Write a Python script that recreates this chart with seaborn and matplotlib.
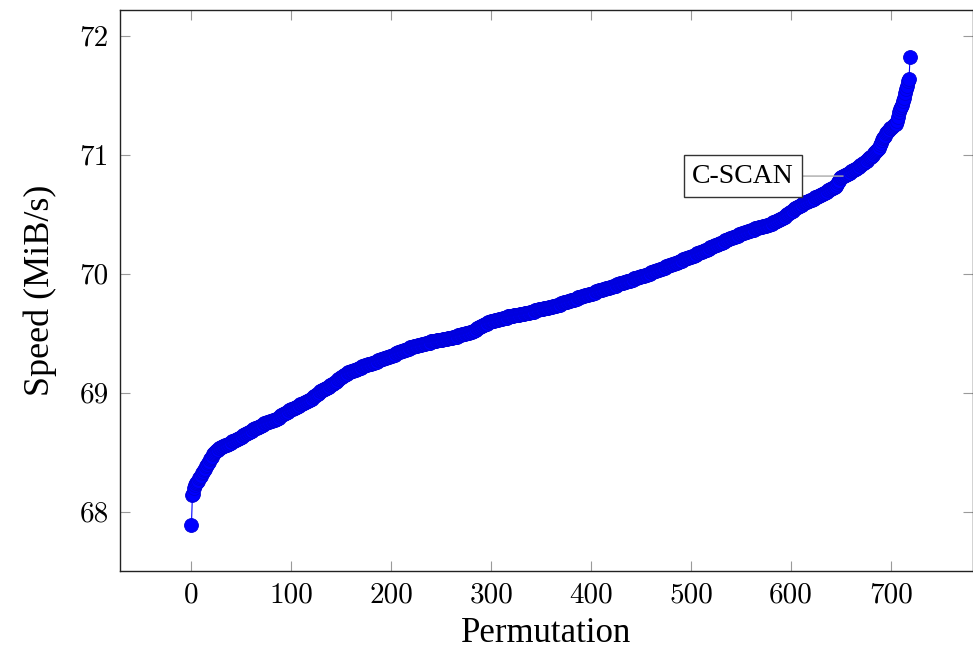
import matplotlib
matplotlib.use('Agg')
import numpy as np
import pandas as pd
import matplotlib.pyplot as plt
import seaborn as sns

# ─────────────────────────────────────────────
# DADOS (ordenados por velocidade)
# ─────────────────────────────────────────────
speed = [
    67.89, 68.14, 68.15, 68.20, 68.22, 68.24, 68.25, 68.26, 68.28, 68.29, 68.30, 68.32, 68.33, 68.35, 68.36, 68.38, 68.39, 68.41, 68.42, 68.44,
    68.45, 68.46, 68.48, 68.49, 68.50, 68.51, 68.52, 68.52, 68.53, 68.53, 68.54, 68.54, 68.55, 68.55, 68.56, 68.56, 68.56, 68.57, 68.57, 68.58,
    68.58, 68.59, 68.59, 68.59, 68.60, 68.60, 68.61, 68.61, 68.62, 68.62, 68.63, 68.63, 68.64, 68.64, 68.65, 68.65, 68.66, 68.66, 68.67, 68.67,
    68.68, 68.68, 68.69, 68.69, 68.70, 68.70, 68.70, 68.71, 68.71, 68.72, 68.72, 68.73, 68.73, 68.74, 68.74, 68.74, 68.75, 68.75, 68.75, 68.76,
    68.76, 68.76, 68.77, 68.77, 68.77, 68.78, 68.78, 68.79, 68.79, 68.80, 68.81, 68.81, 68.82, 68.82, 68.83, 68.83, 68.84, 68.84, 68.85, 68.85,
    68.86, 68.86, 68.86, 68.87, 68.87, 68.88, 68.88, 68.89, 68.89, 68.90, 68.90, 68.90, 68.91, 68.91, 68.92, 68.92, 68.93, 68.93, 68.94, 68.94,
    68.95, 68.95, 68.96, 68.97, 68.97, 68.98, 68.99, 68.99, 69.00, 69.01, 69.01, 69.02, 69.02, 69.03, 69.03, 69.04, 69.04, 69.05, 69.05, 69.06,
    69.06, 69.07, 69.07, 69.08, 69.09, 69.09, 69.10, 69.11, 69.11, 69.12, 69.13, 69.13, 69.14, 69.15, 69.15, 69.16, 69.16, 69.17, 69.17, 69.17,
    69.18, 69.18, 69.18, 69.19, 69.19, 69.19, 69.20, 69.20, 69.21, 69.21, 69.21, 69.22, 69.22, 69.22, 69.23, 69.23, 69.23, 69.24, 69.24, 69.24,
    69.24, 69.25, 69.25, 69.25, 69.26, 69.26, 69.26, 69.27, 69.27, 69.27, 69.28, 69.28, 69.28, 69.29, 69.29, 69.29, 69.30, 69.30, 69.30, 69.31,
    69.31, 69.31, 69.32, 69.32, 69.32, 69.33, 69.33, 69.34, 69.34, 69.34, 69.35, 69.35, 69.35, 69.36, 69.36, 69.36, 69.37, 69.37, 69.37, 69.38,
    69.38, 69.38, 69.38, 69.39, 69.39, 69.39, 69.39, 69.40, 69.40, 69.40, 69.40, 69.41, 69.41, 69.41, 69.41, 69.42, 69.42, 69.42, 69.42, 69.42,
    69.43, 69.43, 69.43, 69.43, 69.43, 69.43, 69.44, 69.44, 69.44, 69.44, 69.44, 69.44, 69.45, 69.45, 69.45, 69.45, 69.45, 69.46, 69.46, 69.46,
    69.46, 69.46, 69.47, 69.47, 69.47, 69.47, 69.47, 69.48, 69.48, 69.48, 69.48, 69.49, 69.49, 69.49, 69.49, 69.50, 69.50, 69.50, 69.50, 69.51,
    69.51, 69.51, 69.52, 69.52, 69.53, 69.53, 69.54, 69.54, 69.55, 69.55, 69.56, 69.56, 69.57, 69.57, 69.58, 69.58, 69.58, 69.59, 69.59, 69.59,
    69.60, 69.60, 69.60, 69.60, 69.61, 69.61, 69.61, 69.61, 69.62, 69.62, 69.62, 69.62, 69.63, 69.63, 69.63, 69.63, 69.63, 69.64, 69.64, 69.64,
    69.64, 69.64, 69.64, 69.65, 69.65, 69.65, 69.65, 69.65, 69.65, 69.66, 69.66, 69.66, 69.66, 69.66, 69.67, 69.67, 69.67, 69.67, 69.67, 69.68,
    69.68, 69.68, 69.68, 69.68, 69.69, 69.69, 69.69, 69.69, 69.70, 69.70, 69.70, 69.70, 69.70, 69.71, 69.71, 69.71, 69.71, 69.71, 69.72, 69.72,
    69.72, 69.72, 69.73, 69.73, 69.73, 69.73, 69.74, 69.74, 69.74, 69.74, 69.75, 69.75, 69.75, 69.76, 69.76, 69.76, 69.76, 69.77, 69.77, 69.77,
    69.78, 69.78, 69.78, 69.78, 69.79, 69.79, 69.79, 69.80, 69.80, 69.80, 69.80, 69.81, 69.81, 69.81, 69.82, 69.82, 69.82, 69.82, 69.83, 69.83,
    69.83, 69.83, 69.84, 69.84, 69.84, 69.85, 69.85, 69.85, 69.86, 69.86, 69.86, 69.86, 69.87, 69.87, 69.87, 69.88, 69.88, 69.88, 69.88, 69.89,
    69.89, 69.89, 69.90, 69.90, 69.90, 69.90, 69.91, 69.91, 69.91, 69.92, 69.92, 69.92, 69.92, 69.93, 69.93, 69.93, 69.94, 69.94, 69.94, 69.94,
    69.95, 69.95, 69.95, 69.96, 69.96, 69.96, 69.96, 69.97, 69.97, 69.97, 69.98, 69.98, 69.98, 69.98, 69.99, 69.99, 69.99, 70.00, 70.00, 70.00,
    70.01, 70.01, 70.01, 70.02, 70.02, 70.02, 70.03, 70.03, 70.03, 70.04, 70.04, 70.04, 70.05, 70.05, 70.05, 70.06, 70.06, 70.06, 70.07, 70.07,
    70.07, 70.08, 70.08, 70.08, 70.09, 70.09, 70.09, 70.10, 70.10, 70.11, 70.11, 70.11, 70.12, 70.12, 70.12, 70.13, 70.13, 70.13, 70.14, 70.14,
    70.14, 70.15, 70.15, 70.15, 70.16, 70.16, 70.17, 70.17, 70.17, 70.18, 70.18, 70.18, 70.19, 70.19, 70.20, 70.20, 70.20, 70.21, 70.21, 70.22,
    70.22, 70.22, 70.23, 70.23, 70.24, 70.24, 70.24, 70.25, 70.25, 70.26, 70.26, 70.26, 70.27, 70.27, 70.28, 70.28, 70.28, 70.29, 70.29, 70.30,
    70.30, 70.30, 70.31, 70.31, 70.31, 70.32, 70.32, 70.32, 70.33, 70.33, 70.33, 70.34, 70.34, 70.34, 70.35, 70.35, 70.35, 70.36, 70.36, 70.36,
    70.37, 70.37, 70.37, 70.37, 70.38, 70.38, 70.38, 70.38, 70.39, 70.39, 70.39, 70.39, 70.40, 70.40, 70.40, 70.40, 70.41, 70.41, 70.41, 70.42,
    70.42, 70.42, 70.43, 70.43, 70.43, 70.44, 70.44, 70.45, 70.45, 70.46, 70.46, 70.47, 70.47, 70.48, 70.48, 70.49, 70.50, 70.50, 70.51, 70.52,
    70.52, 70.53, 70.53, 70.54, 70.55, 70.55, 70.56, 70.56, 70.57, 70.57, 70.58, 70.58, 70.59, 70.59, 70.60, 70.60, 70.60, 70.61, 70.61, 70.62,
    70.62, 70.62, 70.63, 70.63, 70.64, 70.64, 70.64, 70.65, 70.65, 70.66, 70.66, 70.67, 70.67, 70.68, 70.68, 70.69, 70.69, 70.70, 70.70, 70.71,
    70.71, 70.72, 70.72, 70.73, 70.73, 70.74, 70.75, 70.77, 70.78, 70.80, 70.81, 70.81, 70.82, 70.82, 70.83, 70.83, 70.84, 70.84, 70.85, 70.85,
    70.86, 70.86, 70.87, 70.87, 70.88, 70.88, 70.89, 70.90, 70.90, 70.91, 70.91, 70.92, 70.93, 70.93, 70.94, 70.95, 70.95, 70.96, 70.97, 70.98,
    70.98, 70.99, 71.00, 71.01, 71.02, 71.03, 71.04, 71.05, 71.06, 71.08, 71.10, 71.12, 71.14, 71.15, 71.16, 71.18, 71.19, 71.20, 71.21, 71.22,
    71.22, 71.23, 71.24, 71.25, 71.26, 71.26, 71.28, 71.32, 71.36, 71.38, 71.40, 71.42, 71.45, 71.48, 71.52, 71.55, 71.58, 71.62, 71.64, 71.82,
]
permutation = list(range(len(speed)))

x_ticks = [0, 100, 200, 300, 400, 500, 600, 700]
y_ticks = [68, 69, 70, 71, 72]

annot_label = 'C-SCAN'
annot_idx = 652

# ─────────────────────────────────────────────
# ESTILO
# ─────────────────────────────────────────────
sns.set_style('ticks')
plt.rcParams['font.family'] = ['Liberation Serif', 'DejaVu Serif']
plt.rcParams['axes.formatter.use_mathtext'] = True
plt.rcParams['text.color'] = 'black'
plt.rcParams['axes.labelcolor'] = 'black'
plt.rcParams['xtick.labelcolor'] = 'black'
plt.rcParams['ytick.labelcolor'] = 'black'

df = pd.DataFrame({'Permutation': permutation, 'Speed': speed})

fig = plt.figure(figsize=(9.73, 6.51), dpi=100)
ax = fig.add_axes([0.1233, 0.1229, 0.8762, 0.8617])

sns.lineplot(data=df, x='Permutation', y='Speed', ax=ax,
             estimator=None, sort=False, color='#0000ff', linewidth=0.8,
             marker='o', markersize=10, markeredgecolor='#0000d8',
             markeredgewidth=0.6)

ax.set_xlim(-71.5, 781.5)
ax.set_ylim(67.50, 72.216)
ax.set_xticks(x_ticks)
ax.set_yticks(y_ticks)
ax.set_xticklabels([str(t) for t in x_ticks], fontfamily='cmr10', fontsize=21)
ax.set_yticklabels([str(t) for t in y_ticks], fontfamily='cmr10', fontsize=21)

ax.tick_params(axis='both', which='major', direction='in', length=7,
               width=0.8, color='#9a9a9a', top=True, right=True, pad=8,
               labelcolor='black')
for s in ax.spines.values():
    s.set_color('#222222')
    s.set_linewidth(1.0)

ax.set_xlabel('Permutation', fontsize=25, labelpad=6, color='black')
ax.set_ylabel('Speed (MiB/s)', fontsize=26, labelpad=16, color='black')

# Anotação
ax.annotate(annot_label, xy=(permutation[annot_idx], speed[annot_idx]),
            xytext=(552, speed[annot_idx]), textcoords='data',
            ha='center', va='center', fontsize=20, color='black',
            bbox=dict(boxstyle='square,pad=0.3', fc='white', ec='#333333', lw=1.0),
            arrowprops=dict(arrowstyle='-', color='#aaaaaa', lw=1.0,
                            shrinkA=0, shrinkB=0),
            zorder=5)

plt.savefig('out.png', dpi=100)
